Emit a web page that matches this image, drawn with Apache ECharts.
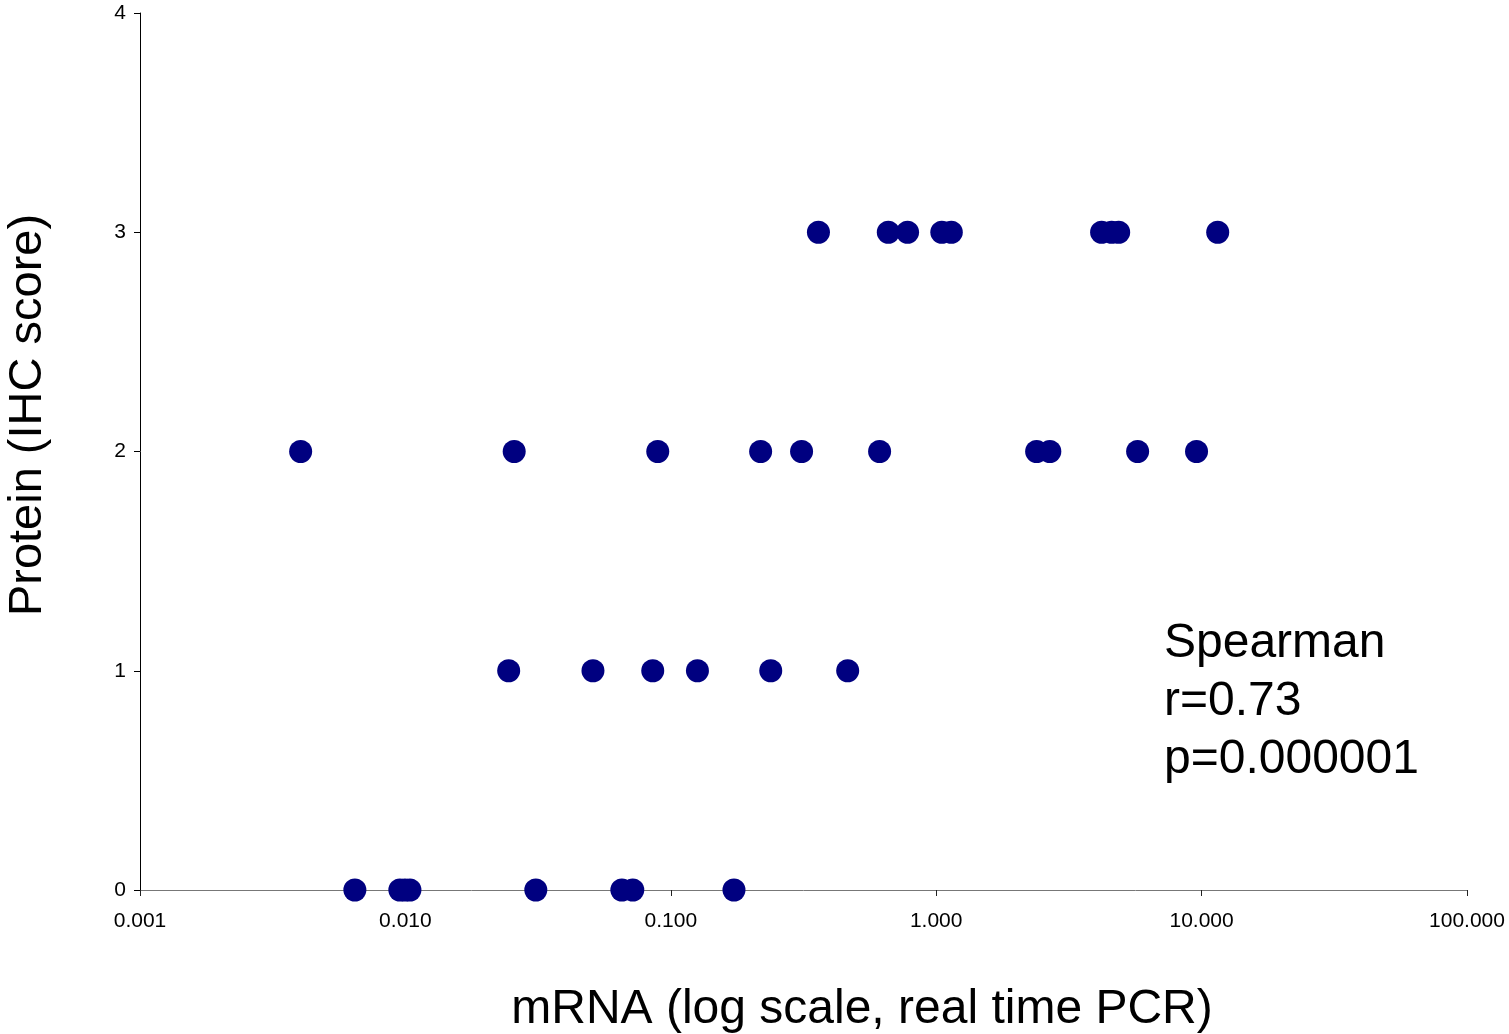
<!DOCTYPE html>
<html>
<head>
<meta charset="utf-8">
<script src="https://cdn.jsdelivr.net/npm/echarts@6/dist/echarts.min.js"></script>
<style>
    html, body { margin: 0; padding: 0; background: #fff; }
    #chart { width: 1509px; height: 1034px; }
</style>
</head>
<body>
<div id="chart"></div>
<script>
// mRNA (log) values grouped by protein IHC score
var score3 = [0.36, 0.66, 0.78, 1.05, 1.14, 4.2, 4.58, 4.87, 11.5];
var score2 = [0.00403, 0.0257, 0.0893, 0.218, 0.311, 0.612, 2.39, 2.68, 5.74, 9.57];
var score1 = [0.0245, 0.0509, 0.0855, 0.126, 0.238, 0.464];
var score0 = [0.00645, 0.00953, 0.00996, 0.0104, 0.031, 0.0654, 0.0719, 0.173];

var statLines = ['Spearman', 'r=0.73', 'p=0.000001'];

function toPoints(arr, y) {
    return arr.map(function (v) { return [v, y]; });
}
var points = [].concat(toPoints(score0, 0), toPoints(score1, 1), toPoints(score2, 2), toPoints(score3, 3));

var font = '"Liberation Sans", Arial, sans-serif';

var option = {
    animation: false,
    grid: { left: 140, right: 42, top: 13, bottom: 144 },
    xAxis: {
        type: 'log',
        logBase: 10,
        min: 0.001,
        max: 100,
        axisLine: { onZero: false, lineStyle: { color: '#777', width: 1 } },
        axisTick: { show: true, inside: false, length: 6, lineStyle: { color: '#222' } },
        minorTick: { show: false },
        splitLine: { show: false },
        axisLabel: {
            color: '#000',
            fontSize: 21,
            fontFamily: font,
            margin: 21,
            formatter: function (v) { return v.toFixed(3); }
        }
    },
    yAxis: {
        type: 'value',
        min: 0,
        max: 4,
        interval: 1,
        axisLine: { show: true, lineStyle: { color: '#000', width: 1 } },
        axisTick: { show: true, length: 6, lineStyle: { color: '#000' } },
        splitLine: { show: false },
        axisLabel: { color: '#000', fontSize: 21, fontFamily: font, margin: 14 }
    },
    graphic: [
        {
            type: 'text',
            x: 28, y: 415,
            rotation: Math.PI / 2,
            style: {
                text: 'Protein (IHC score)',
                fill: '#000',
                font: '47px ' + font,
                align: 'center',
                verticalAlign: 'middle'
            }
        },
        {
            type: 'text',
            x: 862, y: 1010,
            style: {
                text: 'mRNA (log scale, real time PCR)',
                fill: '#000',
                font: '48px ' + font,
                align: 'center',
                verticalAlign: 'middle'
            }
        },
        {
            type: 'text',
            left: 1164, top: 615,
            style: {
                text: statLines.join('\n'),
                fill: '#000',
                font: '48px ' + font,
                lineHeight: 58
            }
        }
    ],
    series: [
        {
            type: 'scatter',
            symbol: 'circle',
            symbolSize: 23,
            itemStyle: { color: '#000080', opacity: 1 },
            data: points
        }
    ]
};

var chart = echarts.init(document.getElementById('chart'));
chart.setOption(option);
</script>
</body>
</html>
